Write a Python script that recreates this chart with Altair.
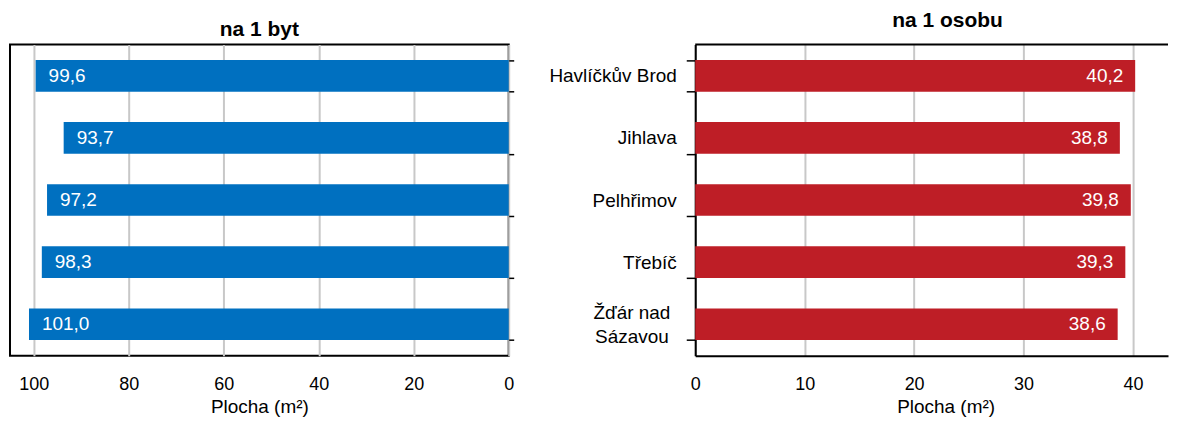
import altair as alt
import pandas as pd

okresy = ["Havlíčkův Brod", "Jihlava", "Pelhřimov", "Třebíč", "Žďár nad Sázavou"]
na_byt = [99.6, 93.7, 97.2, 98.3, 101.0]
na_osobu = [40.2, 38.8, 39.8, 39.3, 38.6]
ticks_byt = [100, 80, 60, 40, 20, 0]
ticks_osobu = [0, 10, 20, 30, 40]
titles = ["na 1 byt", "na 1 osobu"]
x_title = "Plocha (m²)"


def fmt(v):
    return f"{v:.1f}".replace(".", ",")


df = pd.DataFrame({
    "okres": okresy,
    "byt": na_byt,
    "osoba": na_osobu,
    "byt_lbl": [fmt(v) for v in na_byt],
    "osoba_lbl": [fmt(v) for v in na_osobu],
})

FONT = "Liberation Sans"
BLUE = "#0070C0"
RED = "#BE1E26"
GRID = "#C8C8C8"
W_L, W_R, H = 500, 474, 312
LONG = "datum.label == 'Žďár nad Sázavou'"

y_scale = alt.Scale(paddingInner=0.49, paddingOuter=0.25)

# ---------- left panel ----------
y_left = alt.Y(
    "okres:N", sort=okresy, scale=y_scale,
    axis=alt.Axis(orient="right", labels=False, title=None, tickBand="extent",
                  tickSize=5, tickColor="black", tickWidth=1.5, domain=False, grid=False),
)
x_left = alt.X(
    "byt:Q",
    scale=alt.Scale(domain=[0, 105], reverse=True, nice=False, zero=True),
    axis=alt.Axis(values=ticks_byt, title=x_title, tickSize=0, labelPadding=20,
                  grid=True, gridColor=GRID, gridWidth=2, domain=False,
                  labelFontSize=18, titleFontSize=19, titleFontWeight="normal",
                  titlePadding=4, labelColor="black", titleColor="black",
                  labelFlush=False),
)
base_l = alt.Chart(df)
bars_l = base_l.mark_bar(color=BLUE).encode(x=x_left, y=y_left)
text_l = base_l.mark_text(align="left", baseline="middle", dx=13, color="white",
                          fontSize=19, font=FONT).encode(
    x=alt.X("byt:Q"), y=alt.Y("okres:N", sort=okresy), text="byt_lbl:N")
left = alt.layer(bars_l, text_l).properties(
    width=W_L, height=H,
    title=alt.TitleParams(titles[0], fontSize=21, fontWeight="bold", offset=4,
                          anchor="middle", color="black", font=FONT),
)

# ---------- right panel ----------
y_right = alt.Y(
    "okres:N", sort=okresy, scale=y_scale,
    axis=alt.Axis(orient="left", title=None, tickBand="extent", tickSize=9,
                  tickColor="black", tickWidth=1.5, domain=True, domainColor="black",
                  domainWidth=2, grid=False, labelFontSize=19, labelColor="black",
                  labelLimit=300, labelLineHeight=24,
                  labelPadding={"condition": {"test": LONG, "value": 55}, "value": 10},
                  labelAlign={"condition": {"test": LONG, "value": "center"}, "value": "right"},
                  labelOffset={"condition": {"test": LONG, "value": -12}, "value": 0},
                  labelExpr="datum.label == 'Žďár nad Sázavou' ? ['Žďár nad', 'Sázavou'] : datum.label"),
)
x_right = alt.X(
    "osoba:Q",
    scale=alt.Scale(domain=[0, 43.2], nice=False, zero=True),
    axis=alt.Axis(values=ticks_osobu, title=x_title, tickSize=0, labelPadding=20,
                  grid=True, gridColor=GRID, gridWidth=2, domain=True,
                  domainColor="black", domainWidth=2,
                  labelFontSize=18, titleFontSize=19, titleFontWeight="normal",
                  titlePadding=4, labelColor="black", titleColor="black",
                  labelFlush=False, titleX=251),
)
base_r = alt.Chart(df)
bars_r = base_r.mark_bar(color=RED).encode(x=x_right, y=y_right)
text_r = base_r.mark_text(align="right", baseline="middle", dx=-12, color="white",
                          fontSize=19, font=FONT).encode(
    x=alt.X("osoba:Q"), y=alt.Y("okres:N", sort=okresy), text="osoba_lbl:N")
top_rule = alt.Chart(pd.DataFrame({"a": [0]})).mark_rule(
    color="black", strokeWidth=2).encode(
    x=alt.value(0), x2=alt.value(W_R), y=alt.value(0))
right = alt.layer(bars_r, text_r, top_rule).properties(
    width=W_R, height=H,
    title=alt.TitleParams(titles[1], fontSize=21, fontWeight="bold", offset=4,
                          anchor="middle", color="black", font=FONT, dx=16),
)

chart = alt.hconcat(left, right, spacing=187, bounds="flush").properties(
    padding={"left": 1, "top": 2, "right": 2, "bottom": 0},
).configure(font=FONT).configure_view(
    stroke="black", strokeWidth=2
).configure_axis(labelFont=FONT, titleFont=FONT)

# right view without full frame
chart = chart.to_dict()
chart["hconcat"][1]["view"] = {"stroke": None}
chart = alt.HConcatChart.from_dict(chart)

chart.save("out.html", embed_options={"renderer": "svg", "actions": False})
